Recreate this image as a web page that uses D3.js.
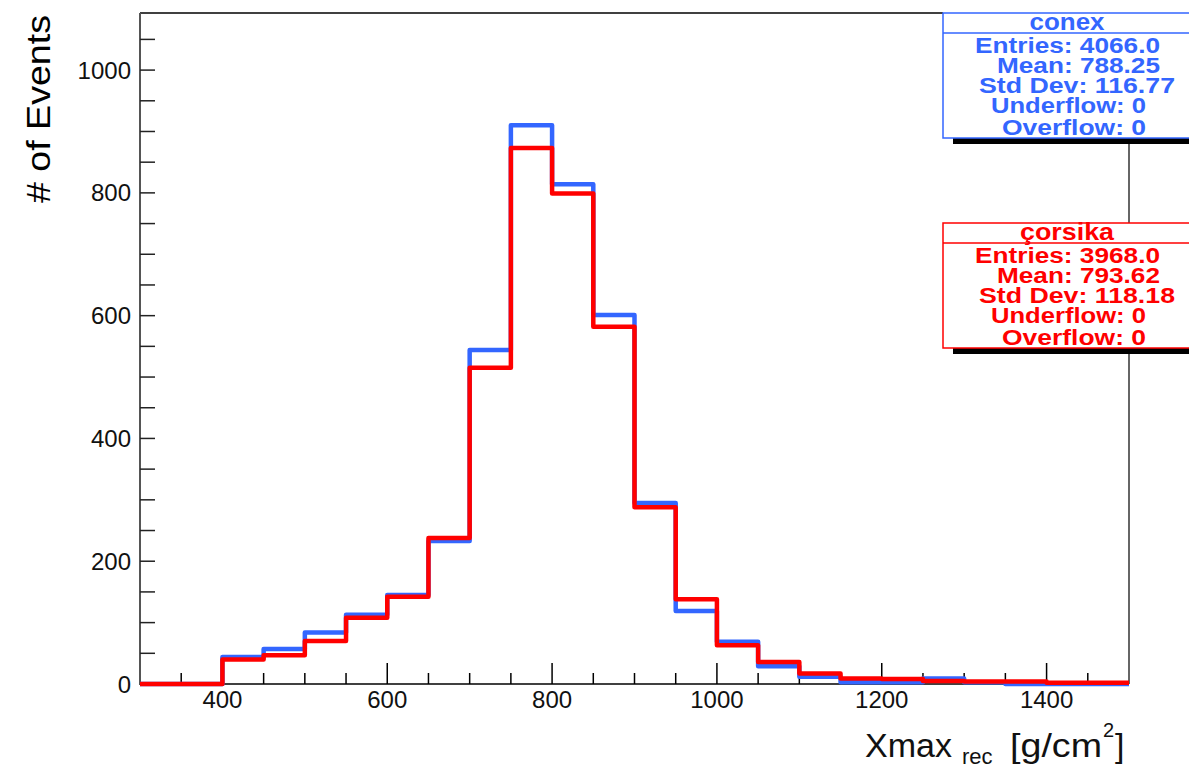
<!DOCTYPE html>
<html>
<head>
<meta charset="utf-8">
<script src="https://cdn.jsdelivr.net/npm/d3@7"></script>
<style>
  body { margin: 0; background: #fff; }
  svg { display: block; font-family: "Liberation Sans", Arial, sans-serif; }
</style>
</head>
<body>
<svg id="chart" width="1189" height="768"></svg>
<script>
// bin edges 300..1500, width 50
const binLow = d3.range(300, 1500, 50);
const conexCounts = [0, 0, 44, 57, 84, 113, 145, 233, 544, 910, 814, 601,
  295, 119, 69, 29, 12, 3, 3, 9, 3, 0, 0, 0];
const corsikaCounts = [0, 0, 40, 47, 70, 108, 142, 238, 515, 873, 799, 582,
  288, 138, 63, 36, 17, 9, 8, 5, 4, 4, 2, 2];

const xTickLabels = [400, 600, 800, 1000, 1200, 1400];
const yTickLabels = [0, 200, 400, 600, 800, 1000];

const conexStats = ['Entries: 4066.0', 'Mean: 788.25', 'Std Dev: 116.77', 'Underflow: 0', 'Overflow: 0'];
const corsikaStats = ['Entries: 3968.0', 'Mean: 793.62', 'Std Dev: 118.18', 'Underflow: 0', 'Overflow: 0'];

const svg = d3.select('#chart');
const x = d3.scaleLinear().domain([300, 1500]).range([140, 1129]);
const y = d3.scaleLinear().domain([0, 1093]).range([684, 13]);

// frame
svg.append('line').attr('x1', 140).attr('x2', 943).attr('y1', 13).attr('y2', 13)
  .attr('stroke', '#000').attr('stroke-width', 1.5);
svg.append('line').attr('x1', 1129).attr('x2', 1129).attr('y1', 13).attr('y2', 684)
  .attr('stroke', '#666').attr('stroke-width', 2);
svg.append('line').attr('x1', 140).attr('x2', 140).attr('y1', 13).attr('y2', 685)
  .attr('stroke', '#555').attr('stroke-width', 2);
svg.append('line').attr('x1', 140).attr('x2', 1129).attr('y1', 684).attr('y2', 684)
  .attr('stroke', '#000').attr('stroke-width', 1.5);

// x ticks
const xTicks = d3.range(350, 1500, 50);
svg.selectAll('.xt').data(xTicks).join('line')
  .attr('x1', d => x(d)).attr('x2', d => x(d))
  .attr('y1', 684).attr('y2', d => d % 200 === 0 ? 663 : 673)
  .attr('stroke', '#000').attr('stroke-width', 1.5);
svg.selectAll('.xl').data(xTickLabels).join('text')
  .attr('x', d => x(d)).attr('y', 708)
  .attr('text-anchor', 'middle').attr('font-size', 24).attr('fill', '#111')
  .text(d => d);

// y ticks
const yTicks = d3.range(0, 1093, 50);
svg.selectAll('.yt').data(yTicks).join('line')
  .attr('x1', 140).attr('x2', 155)
  .attr('y1', d => y(d)).attr('y2', d => y(d))
  .attr('stroke', '#222').attr('stroke-width', 1.5);
svg.selectAll('.yl').data(yTickLabels).join('text')
  .attr('x', 131).attr('y', d => y(d) + 8.5)
  .attr('text-anchor', 'end').attr('font-size', 24).attr('fill', '#111')
  .text(d => d);

// axis titles
svg.append('text')
  .attr('transform', 'translate(50,109) rotate(-90)')
  .attr('text-anchor', 'middle').attr('font-size', 34)
  .attr('textLength', 188).attr('lengthAdjust', 'spacingAndGlyphs')
  .text('# of Events');

const xt = svg.append('text').attr('font-size', 34).attr('fill', '#111');
xt.append('tspan').attr('x', 865).attr('y', 757).text('Xmax');
xt.append('tspan').attr('x', 962).attr('y', 764).attr('font-size', 22).text('rec');
xt.append('tspan').attr('x', 1010).attr('y', 757)
  .attr('textLength', 92).attr('lengthAdjust', 'spacingAndGlyphs').text('[g/cm');
xt.append('tspan').attr('x', 1103).attr('y', 737).attr('font-size', 20).text('2');
xt.append('tspan').attr('x', 1115).attr('y', 757).text(']');

// histograms
const step = d3.line().x(d => x(d[0])).y(d => y(d[1])).curve(d3.curveStepAfter);
function histPath(counts) {
  const pts = binLow.map((b, i) => [b, counts[i]]);
  pts.push([1500, counts[counts.length - 1]]);
  return step(pts);
}
svg.append('path').attr('d', histPath(conexCounts))
  .attr('fill', 'none').attr('stroke', '#3366ff').attr('stroke-width', 4.5)
  .attr('stroke-linejoin', 'round');
svg.append('path').attr('d', histPath(corsikaCounts))
  .attr('fill', 'none').attr('stroke', '#ff0000').attr('stroke-width', 4.5)
  .attr('stroke-linejoin', 'round');

// stat boxes
const statLayout = [
  { x: 975, w: 185 }, { x: 997, w: 163 }, { x: 979, w: 196 },
  { x: 991, w: 155 }, { x: 1002, w: 144 }
];
function statBox(top, name, lines, color, titleW) {
  const g = svg.append('g');
  const bottom = top + 125;
  g.append('rect').attr('x', 953).attr('y', top + 6).attr('width', 250).attr('height', bottom - top)
    .attr('fill', '#000');
  g.append('rect').attr('x', 943).attr('y', top).attr('width', 260).attr('height', bottom - top)
    .attr('fill', '#fff').attr('stroke', color).attr('stroke-width', 1.5);
  g.append('line').attr('x1', 943).attr('x2', 1189).attr('y1', top + 20).attr('y2', top + 20)
    .attr('stroke', color).attr('stroke-width', 1.5);
  g.append('text').attr('x', 1067).attr('y', top + 17)
    .attr('text-anchor', 'middle').attr('font-size', 24).attr('font-weight', 'bold')
    .attr('fill', color).attr('textLength', titleW).attr('lengthAdjust', 'spacingAndGlyphs')
    .text(name);
  lines.forEach((s, i) => {
    g.append('text').attr('x', statLayout[i].x).attr('y', top + 40 + i * 20 + (i === 4 ? 2 : 0))
      .attr('font-size', 21.5).attr('font-weight', 'bold').attr('fill', color)
      .attr('textLength', statLayout[i].w).attr('lengthAdjust', 'spacingAndGlyphs')
      .text(s);
  });
}
statBox(13, 'conex', conexStats, '#3366ff', 75);
statBox(223, 'çorsika', corsikaStats, '#ff0000', 94);
</script>
</body>
</html>
